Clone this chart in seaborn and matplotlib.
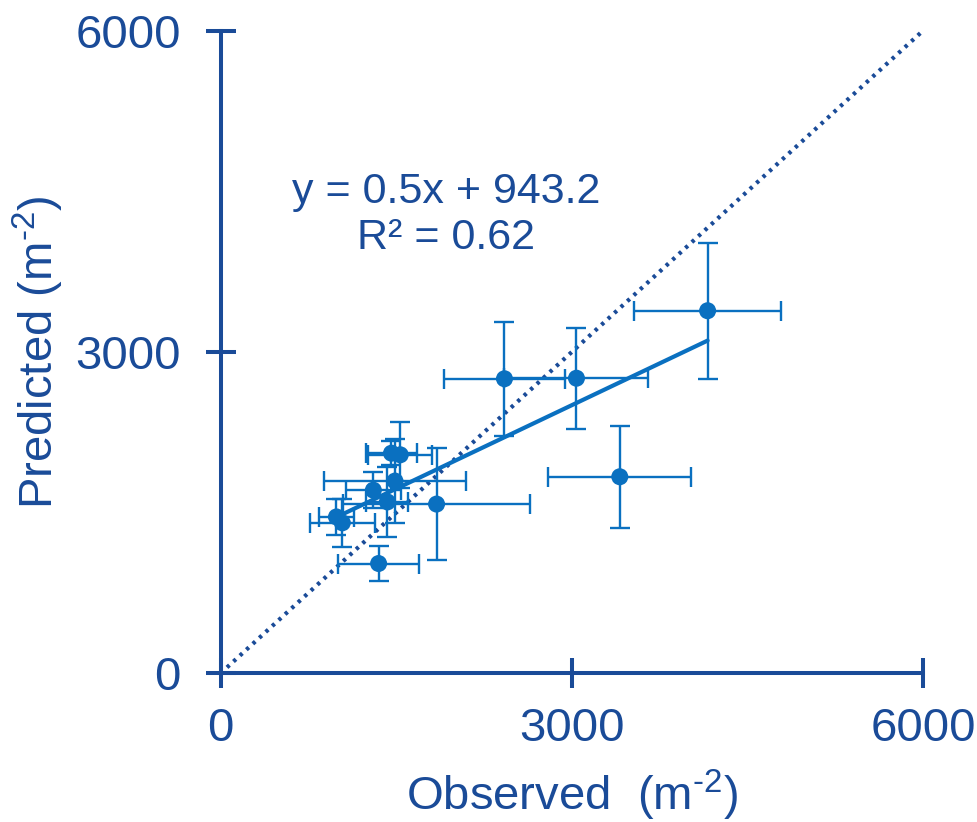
import matplotlib
matplotlib.use("Agg")
import matplotlib.pyplot as plt
import numpy as np
import pandas as pd
import seaborn as sns

# Observed vs predicted densities (m^-2) with their standard deviations
observed = [990, 1040, 1305, 1350, 1425, 1460, 1535, 1490, 1845, 2425, 3040, 3410, 4160]
predicted = [1460, 1405, 1710, 1025, 1600, 2055, 2040, 1795, 1580, 2750, 2755, 1835, 3385]
observed_sd = [150, 275, 235, 345, 180, 220, 275, 605, 800, 520, 615, 610, 630]
predicted_sd = [165, 225, 170, 160, 325, 110, 310, 390, 525, 530, 470, 475, 635]

# Linear fit of predicted on observed
fit_slope = 0.52
fit_intercept = 943.2
fit_r2 = 0.62

axis_ticks = [0, 3000, 6000]

DARK = "#1a4b98"
POINT = "#0a70c0"

sns.set_theme(style="white")
plt.rcParams["font.family"] = ["Liberation Sans", "DejaVu Sans"]
plt.rcParams["mathtext.fontset"] = "custom"
plt.rcParams["mathtext.rm"] = "Liberation Sans"
plt.rcParams["mathtext.it"] = "Liberation Sans:italic"

df = pd.DataFrame({"observed": observed, "predicted": predicted,
                   "observed_sd": observed_sd, "predicted_sd": predicted_sd})

fig = plt.figure(figsize=(9.78, 8.22), dpi=100)
ax = fig.add_axes([0.2255, 0.1809, 0.7183, 0.7818])

# 1:1 reference line
one_to_one = pd.DataFrame({"x": [axis_ticks[0], axis_ticks[-1]],
                           "y": [axis_ticks[0], axis_ticks[-1]]})
sns.lineplot(data=one_to_one, x="x", y="y", ax=ax, color=DARK,
             linewidth=3.0, linestyle=(0, (0.8, 1.3)), zorder=2)

# error bars
ax.errorbar(df["observed"], df["predicted"], xerr=df["observed_sd"],
            yerr=df["predicted_sd"], fmt="none", ecolor=POINT,
            elinewidth=1.7, capsize=7.5, capthick=1.7, zorder=3)

# fitted regression line over the observed range
fx = np.array([min(observed), max(observed)])
fit_df = pd.DataFrame({"x": fx, "y": fit_slope * fx + fit_intercept})
sns.lineplot(data=fit_df, x="x", y="y", ax=ax, color=POINT,
             linewidth=3.0, zorder=4)

# points
sns.scatterplot(data=df, x="observed", y="predicted", ax=ax, color=POINT,
                s=150, edgecolor="none", zorder=5)

ax.text(1926, 4280,
        f"y = {fit_slope:.1f}x + {fit_intercept:.1f}\nR² = {fit_r2:.2f}",
        ha="center", va="center", multialignment="center",
        fontsize=31, color=DARK, linespacing=1.18)

ax.set_xlim(0, 6000)
ax.set_ylim(0, 6000)
ax.set_xticks(axis_ticks)
ax.set_yticks(axis_ticks)
ax.set_xticklabels([str(t) for t in axis_ticks])
ax.set_yticklabels([str(t) for t in axis_ticks])

for side in ["top", "right"]:
    ax.spines[side].set_visible(False)
for side in ["left", "bottom"]:
    ax.spines[side].set_color(DARK)
    ax.spines[side].set_linewidth(2.9)

ax.tick_params(axis="both", direction="inout", length=21, width=2.9,
               color=DARK, labelcolor=DARK, labelsize=34,
               bottom=True, left=True)
ax.tick_params(axis="x", pad=14)
ax.tick_params(axis="y", pad=18)

ax.set_xlabel("Observed  (m$^{\\text{-2}}$)", fontsize=34, color=DARK, labelpad=12)
ax.set_ylabel("Predicted (m$^{\\text{-2}}$)", fontsize=34, color=DARK, labelpad=7)

fig.savefig("out.png", dpi=100)
